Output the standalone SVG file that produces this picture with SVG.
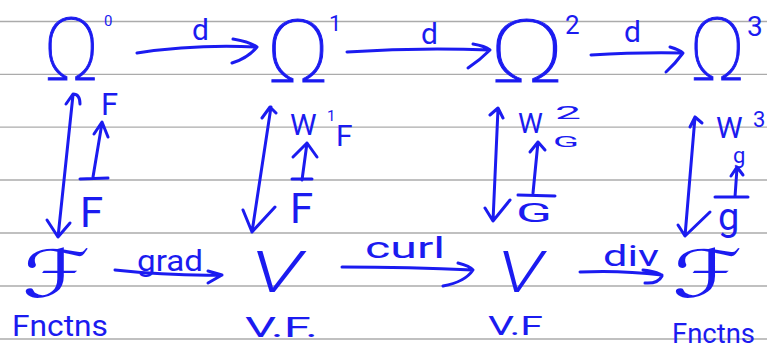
<svg xmlns="http://www.w3.org/2000/svg" width="767" height="349" viewBox="0 0 767 349">
<style>
.rule{stroke:#ababab;stroke-width:1.3}
.ink{fill:none;stroke:#1b1bf0;stroke-width:3;stroke-linecap:round;stroke-linejoin:round}
text{fill:#1b1bf0;font-family:Roboto,"Liberation Sans","DejaVu Sans",sans-serif}
.om{font-size:88px;font-weight:100;stroke:#1b1bf0;stroke-width:0.9}
.sym{font-family:"DejaVu Sans",sans-serif}
.scr{font-size:58px;font-style:italic;font-weight:300}
</style>
<rect width="767" height="349" fill="#ffffff"/>
<g id="rules">
<line class="rule" x1="0" y1="21.5" x2="767" y2="21.5"/>
<line class="rule" x1="0" y1="74.3" x2="767" y2="74.3"/>
<line class="rule" x1="0" y1="127.2" x2="767" y2="127.2"/>
<line class="rule" x1="0" y1="180" x2="767" y2="180"/>
<line class="rule" x1="0" y1="233" x2="767" y2="233"/>
<line class="rule" x1="0" y1="286" x2="767" y2="286"/>
<line class="rule" x1="0" y1="339" x2="767" y2="339"/>
</g>
<g id="connectors">
<path class="ink" d="M137,53 Q195,44 257,47 M233,39 Q250,42 257,47 Q248,58 232,63"/>
<path class="ink" d="M347,52 Q420,47 490,50 M473,44 Q485,46 490,50 Q480,60 468,68"/>
<path class="ink" d="M591,55 Q640,52 683,53 M670,47 Q680,50 683,53 Q675,64 666,72"/>
<path class="ink" d="M73,95 L58,237 M66,104 L73,94 Q80,94 80,104 M47,220 L58,237 L70,223"/>
<path class="ink" d="M93,177 L102,123 M94,134 L102,122 L108,137 M80,179 L108,178"/>
<path class="ink" d="M271,107 L252,232 M262,118 L270,107 L276,113 M243,210 L252,232 L275,207"/>
<path class="ink" d="M302,180 L307,143 M293,157 L307,143 L317,157 M292,179 L312,179"/>
<path class="ink" d="M498,109 L493,221 M490,115 L498,108 L503,118 M485,208 L493,221 L510,200"/>
<path class="ink" d="M533,193 L538,142 M530,152 L538,142 L545,150 M518,195 L555,196"/>
<path class="ink" d="M695,117 L685,236 M690,127 L695,117 L702,123 M678,225 L685,236 L710,212"/>
<path class="ink" d="M735,197 L737,168 M731,176 L737,167 L743,175 M715,197 L748,197"/>
<path class="ink" d="M115,270 Q170,276 222,275 M208,271 L222,275 L208,283"/>
<path class="ink" d="M342,267 Q410,267 473,270 M458,263 Q470,266 473,270 Q465,282 443,286"/>
<path class="ink" d="M580,272 Q620,270 662,275 M643,270 Q660,272 662,276 Q658,284 645,283"/>
</g>
<g id="d-labels">
<text x="192" y="40" font-size="30">d</text>
<text x="421" y="44" font-size="30">d</text>
<text x="624" y="42" font-size="30">d</text>
</g>
<g id="omega0"><text class="om" x="43" y="80" font-size="92">Ω</text><text x="104" y="26" font-size="15">0</text></g>
<g id="omega1"><text class="om" x="266" y="82" textLength="64" lengthAdjust="spacingAndGlyphs">Ω</text><text x="329" y="31" font-size="22">1</text></g>
<g id="omega2"><text class="om" x="489" y="82" textLength="76" lengthAdjust="spacingAndGlyphs">Ω</text><text x="565" y="34" font-size="26">2</text></g>
<g id="omega3"><text class="om" x="689" y="80" font-size="80">Ω</text><text x="747" y="36" font-size="28">3</text></g>
<g id="col1-labels">
<text x="101" y="115" font-size="31">F</text>
<text x="80" y="227" font-size="42">F</text>
</g>
<g id="col2-labels">
<text x="290" y="135" font-size="30">W</text>
<text x="327" y="121" font-size="15">1</text>
<text x="336" y="146" font-size="30">F</text>
<text x="290" y="223" font-size="42">F</text>
</g>
<g id="col3-labels">
<text x="518" y="133" font-size="28">W</text>
<text x="555" y="119" font-size="19" textLength="26" lengthAdjust="spacingAndGlyphs">2</text>
<text x="553" y="147" font-size="15" textLength="26" lengthAdjust="spacingAndGlyphs">G</text>
<text x="516" y="222" font-size="26" textLength="36" lengthAdjust="spacingAndGlyphs">G</text>
</g>
<g id="col4-labels">
<text x="716" y="138" font-size="30">W</text>
<text x="753" y="127" font-size="22">3</text>
<text x="733" y="163" font-size="22">g</text>
<text x="718" y="230" font-size="38">g</text>
</g>
<g id="functions-left"><text class="sym" x="22" y="297" font-size="66" textLength="68" lengthAdjust="spacingAndGlyphs">ℱ</text></g>
<g id="vf-1"><text class="scr" x="250" y="292" textLength="52" lengthAdjust="spacingAndGlyphs">V</text></g>
<g id="vf-2"><text class="scr" x="497" y="292" textLength="46" lengthAdjust="spacingAndGlyphs">V</text></g>
<g id="functions-right"><text class="sym" x="672" y="297" font-size="66" textLength="70" lengthAdjust="spacingAndGlyphs">ℱ</text></g>
<g id="op-labels">
<text x="137" y="271" font-size="30" textLength="66" lengthAdjust="spacingAndGlyphs">grad</text>
<text x="365" y="258" font-size="30" textLength="80" lengthAdjust="spacingAndGlyphs">curl</text>
<text x="603" y="266" font-size="30" textLength="56" lengthAdjust="spacingAndGlyphs">div</text>
</g>
<g id="captions">
<text x="12" y="336" font-size="30" textLength="96" lengthAdjust="spacingAndGlyphs">Fnctns</text>
<text x="245" y="337" font-size="28" textLength="73" lengthAdjust="spacingAndGlyphs">V.F.</text>
<text x="488" y="335" font-size="25" textLength="55" lengthAdjust="spacingAndGlyphs">V.F</text>
<text x="672" y="343" font-size="27" textLength="83" lengthAdjust="spacingAndGlyphs">Fnctns</text>
</g>
</svg>
